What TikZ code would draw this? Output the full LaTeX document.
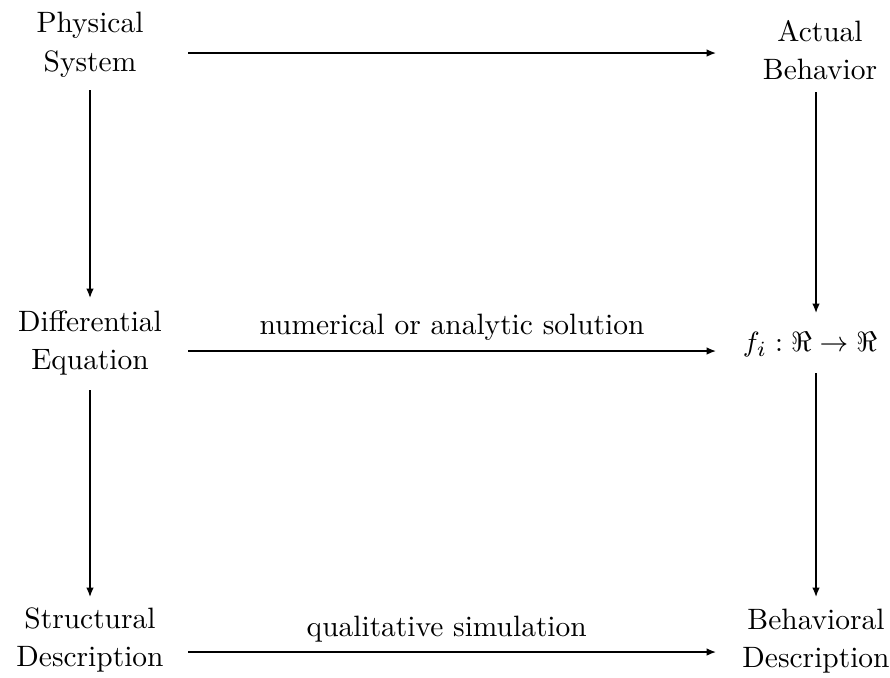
\documentclass[tikz,border=0pt]{standalone}
\usetikzlibrary{arrows.meta,calc}
\begin{document}
\begin{tikzpicture}[x=0.3226pt,y=-0.3226pt,
  font=\fontsize{9.5pt}{12.4pt}\selectfont,
  arr/.style={-{Latex[length=3pt,width=2.4pt]}, line width=0.45pt},
  lab/.style={align=center, inner sep=0pt}]
\useasboundingbox (0,0) rectangle (890,677);
\node[lab] (ps) at (90,45) {Physical\\System};
\node[lab] (ab) at (820,50) {Actual\\Behavior};
\node[lab] (de) at (90,343) {Differential\\Equation};
\node[lab] (fr) at (810,345) {$f_i:\Re\rightarrow\Re$};
\node[lab] (sd) at (90,640) {Structural\\Description};
\node[lab] (bd) at (816,641) {Behavioral\\Description};
% horizontal arrows
\draw[arr] ($(ps.center)+(98,8)$) -- ($(ab.center)+(-104,3)$);
\draw[arr] ($(de.center)+(98,8)$) -- node[lab, above=3pt] (l1) {numerical or analytic solution} ($(fr.center)+(-94,6)$);
\draw[arr] ($(sd.center)+(98,12)$) -- node[lab, pos=0.49, above=3pt] (l2) {qualitative simulation} ($(bd.center)+(-100,11)$);
% vertical arrows
\draw[arr] ($(ps.center)+(0,45)$) -- ($(de.center)+(0,-45)$);
\draw[arr] ($(de.center)+(0,47)$) -- ($(sd.center)+(0,-43)$);
\draw[arr] ($(ab.center)+(-4,42)$) -- ($(fr.center)+(6,-32)$);
\draw[arr] ($(fr.center)+(6,28)$) -- ($(bd.center)+(0,-44)$);
\end{tikzpicture}
\end{document}
